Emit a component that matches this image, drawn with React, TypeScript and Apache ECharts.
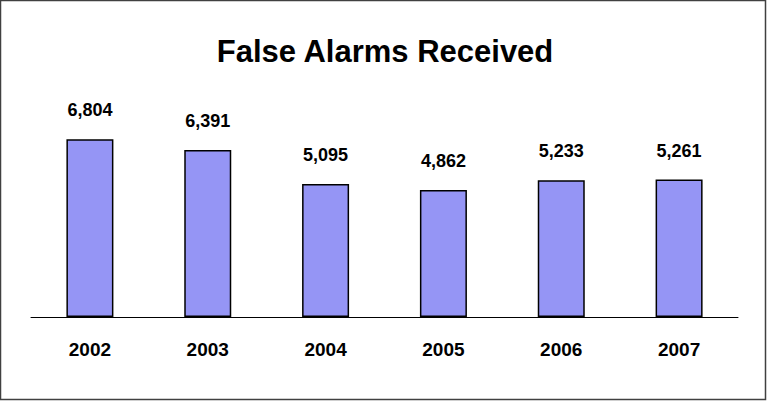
import React, { useEffect, useRef } from "react";
import * as echarts from "echarts";

const years = ["2002", "2003", "2004", "2005", "2006", "2007"];
const falseAlarms = [6804, 6391, 5095, 4862, 5233, 5261];
const titleText = "False Alarms Received";

export default function App() {
  const ref = useRef<HTMLDivElement>(null);
  useEffect(() => {
    if (!ref.current) return;
    const chart = echarts.init(ref.current, null, { renderer: "svg" });
    chart.setOption({
      animation: false,
      backgroundColor: "#ffffff",
      title: {
        text: titleText,
        left: "center",
        top: 31,
        textStyle: {
          fontFamily: "Liberation Sans, Arial, sans-serif",
          fontWeight: "bold",
          fontSize: 31,
          color: "#000",
        },
      },
      graphic: [
        {
          type: "rect",
          shape: { x: 0.5, y: 0.5, width: 765, height: 399 },
          style: { fill: "none", stroke: "#404040", lineWidth: 1.5 },
          silent: true,
        },
      ],
      grid: { left: 31, right: 32, top: 108, bottom: 85 },
      xAxis: {
        type: "category",
        data: years,
        axisLine: { lineStyle: { color: "#000", width: 1 } },
        axisTick: { show: false },
        axisLabel: {
          margin: 23,
          fontFamily: "Liberation Sans, Arial, sans-serif",
          fontWeight: "bold",
          fontSize: 19,
          color: "#000",
        },
      },
      yAxis: {
        type: "value",
        min: 0,
        max: 8000,
        show: false,
        splitLine: { show: false },
      },
      series: [
        {
          type: "bar",
          data: falseAlarms,
          barWidth: 47,
          itemStyle: { color: "#9595f5", borderColor: "#000", borderWidth: 1.5 },
          label: {
            show: true,
            position: "top",
            distance: 20,
            formatter: (p: any) => p.value.toLocaleString("en-US"),
            fontFamily: "Liberation Sans, Arial, sans-serif",
            fontWeight: "bold",
            fontSize: 18,
            color: "#000",
          },
        },
      ],
    });
    return () => chart.dispose();
  }, []);
  return (
    <div
      ref={ref}
      style={{ position: "fixed", left: 0, top: 0, width: 770, height: 402 }}
    />
  );
}
